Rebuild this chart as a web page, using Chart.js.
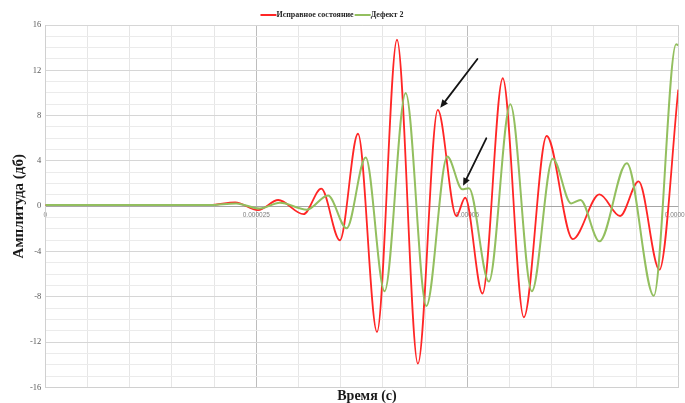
<!DOCTYPE html>
<html>
<head>
<meta charset="utf-8">
<script src="https://cdn.jsdelivr.net/npm/chart.js@4/dist/chart.umd.min.js"></script>
<style>
  html, body { margin: 0; padding: 0; background: #ffffff; }
</style>
</head>
<body>
<canvas id="chart" width="685" height="403"></canvas>
<script>
// Signal amplitude over time (time in microseconds, amplitude in dB)
const seriesNames = ['Исправное состояние', 'Дефект 2'];

const healthyTime = [0, 19.5, 22.5, 25.2, 27.6, 30.6, 32.7, 34.9, 37.05, 39.3, 41.67, 44.15, 46.5, 48.7, 49.75, 51.8, 54.2, 56.7, 59.4, 62.5, 65.66, 68.1, 70.3, 72.76, 75];
const healthyAmp  = [0.1, 0.1, 0.35, -0.35, 0.55, -0.7, 1.55, -3.0, 6.4, -11.1, 14.7, -13.9, 8.5, -0.86, 0.75, -7.7, 11.3, -9.8, 6.2, -2.9, 1.05, -0.86, 2.2, -5.6, 10.3];

const defectTime = [0, 19.5, 22.6, 25.4, 27.8, 31.0, 33.5, 35.7, 37.96, 40.2, 42.7, 45.15, 47.63, 49.4, 50.2, 52.56, 55.1, 57.65, 60.13, 62.3, 63.4, 65.66, 68.9, 72.1, 74.74, 75];
const defectAmp  = [0.1, 0.1, 0.25, -0.2, 0.3, -0.3, 0.95, -1.95, 4.3, -7.5, 10.0, -8.8, 4.4, 1.5, 1.6, -6.65, 9.0, -7.5, 4.2, 0.25, 0.55, -3.1, 3.8, -7.9, 14.3, 14.2];

// Axis ticks: time ticks (µs) and their labels in seconds
const xTickValues = [0, 25, 50, 75];
const xTickLabels = ['0', '0.000025', '0.00005', '0.000075'];
const yTickLabels = [16, 12, 8, 4, 0, -4, -8, -12, -16];

const xTitle = 'Время (с)';
const yTitle = 'Амплитуда (дб)';

// Pointer arrows: [tail time, tail amplitude, tip time, tip amplitude]
const arrows = [
  [51.2, 13.0, 46.8, 8.7],
  [52.25, 6.0, 49.5, 1.8]
];

const toPoints = (ts, vs) => ts.map((t, i) => ({ x: t, y: vs[i] }));

const overlay = {
  id: 'overlay',
  afterDatasetsDraw(chart) {
    const { ctx, scales: { x, y } } = chart;
    ctx.save();
    ctx.strokeStyle = '#141414';
    ctx.fillStyle = '#141414';
    ctx.lineWidth = 1.8;
    ctx.lineCap = 'round';
    arrows.forEach(([t0, a0, t1, a1]) => {
      const x0 = x.getPixelForValue(t0), y0 = y.getPixelForValue(a0);
      const x1 = x.getPixelForValue(t1), y1 = y.getPixelForValue(a1);
      const ang = Math.atan2(y1 - y0, x1 - x0);
      const head = 8, half = 3.5;
      const bx = x1 - head * Math.cos(ang), by = y1 - head * Math.sin(ang);
      ctx.beginPath();
      ctx.moveTo(x0, y0);
      ctx.lineTo(bx, by);
      ctx.stroke();
      ctx.beginPath();
      ctx.moveTo(x1, y1);
      ctx.lineTo(bx + half * Math.sin(ang), by - half * Math.cos(ang));
      ctx.lineTo(bx - half * Math.sin(ang), by + half * Math.cos(ang));
      ctx.closePath();
      ctx.fill();
    });
    ctx.restore();
  },
  afterDraw(chart) {
    const { ctx } = chart;
    ctx.save();
    // legend row
    ctx.font = 'bold 8px "Liberation Serif", "Times New Roman", serif';
    ctx.textBaseline = 'middle';
    ctx.textAlign = 'left';
    const sets = chart.data.datasets;
    const lineLen = 16, gap = 1, legendY = 15, legendCenterX = 332;
    const widths = sets.map(d => lineLen + ctx.measureText(d.label).width);
    const total = widths.reduce((a, b) => a + b, 0) + gap * (sets.length - 1);
    let cx = legendCenterX - total / 2;
    sets.forEach((d, i) => {
      ctx.strokeStyle = d.borderColor;
      ctx.lineWidth = 2;
      ctx.beginPath();
      ctx.moveTo(cx, legendY);
      ctx.lineTo(cx + lineLen, legendY);
      ctx.stroke();
      ctx.fillStyle = '#262626';
      ctx.fillText(d.label, cx + lineLen, legendY);
      cx += widths[i] + gap;
    });
    // horizontal axis title
    ctx.font = 'bold 14px "Liberation Serif", "Times New Roman", serif';
    ctx.textAlign = 'center';
    ctx.fillStyle = '#1a1a1a';
    ctx.fillText(xTitle, 367, 396);
    ctx.restore();
  }
};

new Chart(document.getElementById('chart'), {
  type: 'line',
  data: {
    datasets: [
      {
        label: seriesNames[0],
        data: toPoints(healthyTime, healthyAmp),
        borderColor: '#ff2626',
        borderWidth: 1.8,
        pointRadius: 0,
        fill: false,
        cubicInterpolationMode: 'monotone',
        order: 1,
        xAxisID: 'x',
        yAxisID: 'y'
      },
      {
        label: seriesNames[1],
        data: toPoints(defectTime, defectAmp),
        borderColor: '#93bf5f',
        borderWidth: 2,
        pointRadius: 0,
        fill: false,
        cubicInterpolationMode: 'monotone',
        order: 0,
        xAxisID: 'x',
        yAxisID: 'y'
      }
    ]
  },
  options: {
    responsive: false,
    animation: false,
    devicePixelRatio: 1,
    layout: { padding: { top: 25, right: 6.7, bottom: 0, left: 0 } },
    plugins: { legend: { display: false }, tooltip: { enabled: false } },
    scales: {
      x: {
        type: 'linear', min: 0, max: 75, position: 'bottom',
        ticks: { display: false, stepSize: 5 },
        grid: {
          drawTicks: false,
          lineWidth: 1,
          color: c => {
            const v = c.tick && c.tick.value;
            if (v === 25 || v === 50) return '#bdbdbd';
            if (v === 75) return '#d0d0d0';
            return '#e6e6e6';
          }
        },
        border: { color: '#d0d0d0' },
        afterFit: s => { s.height = 15.5; s.paddingLeft = 0; s.paddingRight = 0; }
      },
      xt: {
        axis: 'x', type: 'linear', min: 0, max: 75, position: { y: 0 },
        grid: { display: false, drawTicks: false },
        border: { display: false },
        ticks: {
          stepSize: 25, padding: 5, autoSkip: false, maxRotation: 0,
          font: { family: '"Liberation Sans", Arial, sans-serif', size: 6.5 },
          color: '#808080',
          callback: v => { const i = xTickValues.indexOf(v); return i >= 0 ? xTickLabels[i] : ''; }
        },
        afterFit: s => { s.paddingLeft = 0; s.paddingRight = 0; }
      },
      y: {
        min: -16, max: 16,
        ticks: {
          stepSize: 1, autoSkip: false, padding: 4,
          font: { family: '"Liberation Serif", "Times New Roman", serif', size: 8.5 },
          color: '#595959',
          callback: v => yTickLabels.includes(v) ? String(v) : ''
        },
        grid: {
          drawTicks: false,
          lineWidth: 1,
          color: c => {
            const v = c.tick && c.tick.value;
            if (v === 0) return '#a6a6a6';
            if (v % 4 === 0) return '#d6d6d6';
            return '#ebebeb';
          }
        },
        border: { color: '#d0d0d0' },
        title: {
          display: true, text: yTitle,
          font: { family: '"Liberation Serif", "Times New Roman", serif', size: 15, weight: 'bold' },
          color: '#1a1a1a',
          padding: { top: 10, bottom: 0 }
        },
        afterFit: s => { s.width = 45.3; s.paddingTop = 0; s.paddingBottom = 0; }
      }
    }
  },
  plugins: [overlay]
});
</script>
</body>
</html>
